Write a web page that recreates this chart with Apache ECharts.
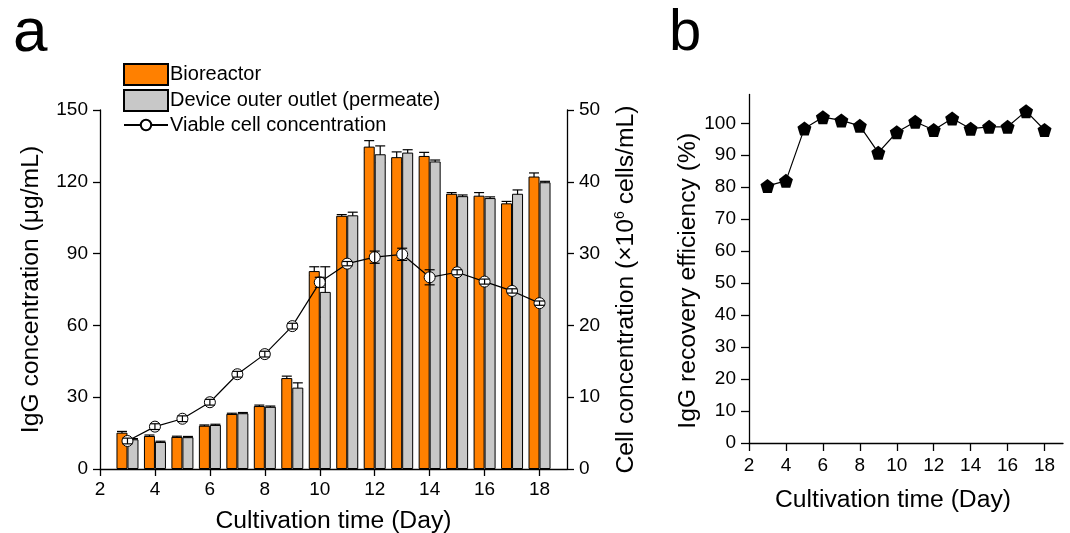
<!DOCTYPE html>
<html>
<head>
<meta charset="utf-8">
<script src="https://cdn.jsdelivr.net/npm/echarts@6/dist/echarts.min.js"></script>
<style>
html,body{margin:0;padding:0;background:#fff;}
#chart{width:1070px;height:533px;}
</style>
</head>
<body>
<div id="chart"></div>
<script>
// ---- data ----
const days = [3,4,5,6,7,8,9,10,11,12,13,14,15,16,17,18];
const bioreactor = [15.2,13.8,13.4,18.1,23.0,26.3,38.0,82.7,105.8,134.7,130.3,130.8,115.0,114.2,111.0,122.2];
const bioreactorErr = [0.5,0.4,0.3,0.3,0.3,0.4,0.8,1.8,0.5,2.5,2.2,1.5,0.5,1.3,0.8,1.5];
const permeate = [12.4,11.3,13.3,18.4,23.3,26.0,34.0,74.0,106.0,131.5,132.2,128.5,114.0,113.2,115.0,119.8];
const permeateErr = [0.3,0.3,0.3,0.3,0.3,0.3,2.0,10.5,1.3,3.5,1.2,0.6,0.5,0.5,1.6,0.4];
const viableCells = [3.9,5.9,7.0,9.3,13.2,16.0,19.9,26.0,28.6,29.5,29.9,26.7,27.4,26.1,24.8,23.1];
const viableErr = [0.4,0.4,0.4,0.4,0.4,0.4,0.4,0.7,0.3,0.85,0.85,1.05,0.35,0.35,0.3,0.3];
const recovery = [80.4,82.0,98.4,101.9,100.9,99.2,90.8,97.2,100.5,97.9,101.5,98.3,98.9,98.9,103.8,97.9];
const xTicks = [2,4,6,8,10,12,14,16,18];
const yTicksRecovery = [0,10,20,30,40,50,60,70,80,90,100];
const seriesNames = ['Bioreactor','Device outer outlet (permeate)','Viable cell concentration'];

const FONT = 'Liberation Sans, Arial, sans-serif';
const BAR_W = 11;
const pentagon = 'path://M0,-1 L0.951,-0.309 L0.588,0.809 L-0.588,0.809 L-0.951,-0.309 Z';

function zip(xs, ys){ return xs.map((x,i)=>[x, ys[i]]); }
function zip3(xs, ys, es){ return xs.map((x,i)=>[x, ys[i], es[i]]); }

function errRender(offsetPx, capW){
  return function(params, api){
    const x = api.value(0), y = api.value(1), e = api.value(2);
    const hi = api.coord([x, y + e]);
    const lo = api.coord([x, y - e]);
    const cx = hi[0] + offsetPx;
    const st = {stroke:'#000', lineWidth:1.2};
    return {type:'group', children:[
      {type:'line', shape:{x1:cx, y1:hi[1], x2:cx, y2:lo[1]}, style:st},
      {type:'line', shape:{x1:cx-capW/2, y1:hi[1], x2:cx+capW/2, y2:hi[1]}, style:st},
      {type:'line', shape:{x1:cx-capW/2, y1:lo[1], x2:cx+capW/2, y2:lo[1]}, style:st}
    ]};
  };
}

const axisLineStyle = {color:'#000', width:1.3};
const labelStyle = {color:'#000', fontSize:19, fontFamily:FONT};
const nameStyle = {color:'#000', fontSize:24.7, fontFamily:FONT};

const chart = echarts.init(document.getElementById('chart'), null, {renderer:'canvas'});
chart.setOption({
  animation:false,
  backgroundColor:'#fff',
  title:[
    {text:'a', left:8, top:-2, textStyle:{fontSize:62, fontWeight:'normal', color:'#000', fontFamily:FONT}},
    {text:'b', left:664, top:0, textStyle:{fontSize:58, fontWeight:'normal', color:'#000', fontFamily:FONT}}
  ],
  legend:[
    {data:[seriesNames[0], seriesNames[1]], orient:'vertical', left:118, top:58, itemWidth:44, itemHeight:21, itemGap:3,
     icon:'rect', textStyle:{fontSize:20, color:'#000', fontFamily:FONT, padding:[0,0,0,-3]}, selectedMode:false},
    {data:[seriesNames[2]], orient:'vertical', left:118, top:110, itemWidth:44, itemHeight:13, itemGap:4,
     textStyle:{fontSize:20, color:'#000', fontFamily:FONT, padding:[0,0,0,-3]}, selectedMode:false}
  ],
  grid:[
    {left:100, top:110, width:467, height:359, outerBoundsMode:'none', containLabel:false},
    {left:749, top:94.5, width:314, height:348.5, outerBoundsMode:'none', containLabel:false}
  ],
  xAxis:[
    {type:'value', gridIndex:0, min:2, max:19, name:'Cultivation time (Day)', nameLocation:'middle', nameGap:40,
     nameTextStyle:nameStyle,
     axisLine:{show:true, lineStyle:axisLineStyle},
     axisTick:{show:true, length:7, lineStyle:axisLineStyle, customValues:xTicks},
     axisLabel:Object.assign({margin:11, customValues:xTicks}, labelStyle),
     splitLine:{show:false}},
    {type:'value', gridIndex:1, min:2, max:19, name:'Cultivation time (Day)', nameLocation:'middle', nameGap:45,
     nameTextStyle:Object.assign({padding:[0,26,0,0]}, nameStyle),
     axisLine:{show:true, lineStyle:axisLineStyle},
     axisTick:{show:true, length:8, lineStyle:axisLineStyle, customValues:xTicks},
     axisLabel:Object.assign({margin:13, customValues:xTicks}, labelStyle),
     splitLine:{show:false}}
  ],
  yAxis:[
    {type:'value', gridIndex:0, min:0, max:150, interval:30, position:'left',
     name:'IgG concentration (μg/mL)', nameLocation:'middle', nameGap:56, nameTextStyle:nameStyle,
     axisLine:{show:true, lineStyle:axisLineStyle},
     axisTick:{show:true, length:7, lineStyle:axisLineStyle},
     axisLabel:Object.assign({margin:12}, labelStyle),
     splitLine:{show:false}},
    {type:'value', gridIndex:0, min:0, max:50, interval:10, position:'right',
     name:'Cell concentration (×10{sup|6} cells/mL)', nameLocation:'middle', nameGap:46,
     nameTextStyle:Object.assign({rich:{sup:{fontSize:14, fontFamily:FONT, color:'#000', verticalAlign:'top', padding:[0,0,12,0]}}}, nameStyle),
     axisLine:{show:true, lineStyle:axisLineStyle},
     axisTick:{show:true, length:7, lineStyle:axisLineStyle},
     axisLabel:Object.assign({margin:12}, labelStyle),
     splitLine:{show:false}},
    {type:'value', gridIndex:1, min:0, max:109, position:'left',
     name:'IgG recovery efficiency (%)', nameLocation:'middle', nameGap:42,
     nameTextStyle:Object.assign({padding:[0,24,0,0]}, nameStyle),
     axisLine:{show:true, lineStyle:axisLineStyle},
     axisTick:{show:true, length:8, lineStyle:axisLineStyle, customValues:yTicksRecovery},
     axisLabel:Object.assign({margin:13, customValues:yTicksRecovery}, labelStyle),
     splitLine:{show:false}}
  ],
  series:[
    {type:'custom', xAxisIndex:0, yAxisIndex:0, data:zip3(days, bioreactor, bioreactorErr),
     renderItem:errRender(-BAR_W/2, 10), z:1, silent:true},
    {type:'custom', xAxisIndex:0, yAxisIndex:0, data:zip3(days, permeate, permeateErr),
     renderItem:errRender(BAR_W/2, 10), z:1, silent:true},
    {name:seriesNames[0], type:'bar', xAxisIndex:0, yAxisIndex:0, data:zip(days, bioreactor),
     barWidth:BAR_W, barGap:'0%', itemStyle:{color:'#FF8000', borderColor:'#000', borderWidth:1}, z:2},
    {name:seriesNames[1], type:'bar', xAxisIndex:0, yAxisIndex:0, data:zip(days, permeate),
     barWidth:BAR_W, barGap:'0%', itemStyle:{color:'#C8C8C8', borderColor:'#000', borderWidth:1}, z:2},
    {name:seriesNames[2], type:'line', xAxisIndex:0, yAxisIndex:1, data:zip(days, viableCells),
     symbol:'circle', symbolSize:11, showAllSymbol:true,
     lineStyle:{color:'#000', width:1.2}, itemStyle:{color:'#fff', borderColor:'#000', borderWidth:1}, z:5},
    {type:'custom', xAxisIndex:0, yAxisIndex:1, data:zip3(days, viableCells, viableErr),
     renderItem:errRender(0, 10), z:6, silent:true},
    {type:'line', xAxisIndex:1, yAxisIndex:2, data:zip(days, recovery),
     symbol:pentagon, symbolSize:14, showAllSymbol:true,
     lineStyle:{color:'#000', width:1.2}, itemStyle:{color:'#000'}, z:5}
  ]
});
</script>
</body>
</html>
